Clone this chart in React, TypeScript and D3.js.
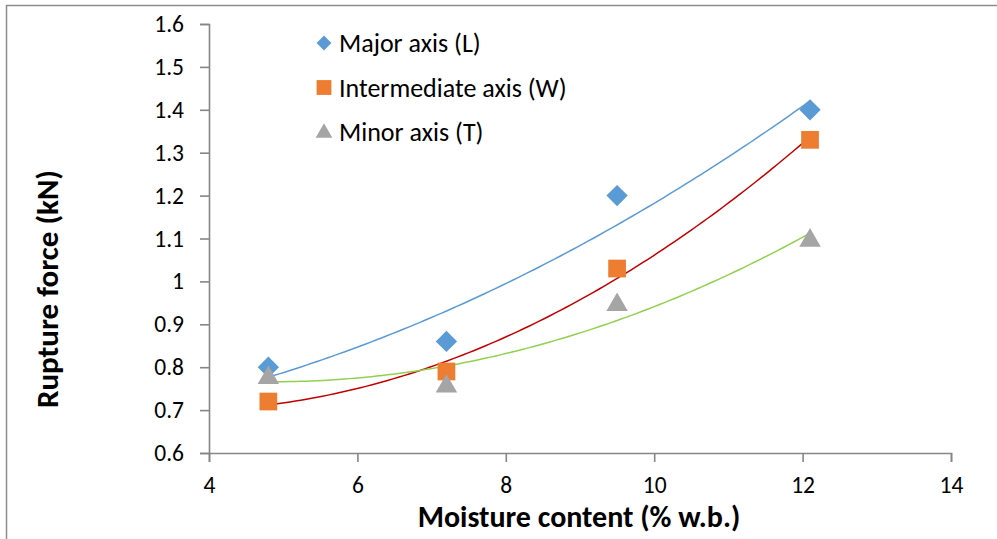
import * as d3 from 'd3';
import { useEffect, useRef } from 'react';

// moisture content levels (% w.b.)
const moisture = [4.8, 7.2, 9.5, 12.1];
// rupture force (kN) for each loading axis
const majorAxis = [0.8, 0.86, 1.2, 1.4];
const intermediateAxis = [0.72, 0.79, 1.03, 1.33];
const minorAxis = [0.78, 0.76, 0.95, 1.1];

const seriesNames = ['Major axis (L)', 'Intermediate axis (W)', 'Minor axis (T)'];
const xTicks = [4, 6, 8, 10, 12, 14];
const yTicks = [0.6, 0.7, 0.8, 0.9, 1, 1.1, 1.2, 1.3, 1.4, 1.5, 1.6];

const W = 997;
const H = 539;
const FONT = 'Carlito, Calibri, Lato, sans-serif';

// least squares, 2nd order polynomial (like the excel trendline)
function polyFit(xs: number[], ys: number[]) {
  const n = xs.length;
  let s1 = 0, s2 = 0, s3 = 0, s4 = 0, t0 = 0, t1 = 0, t2 = 0;
  xs.forEach((x, i) => {
    const y = ys[i];
    s1 += x; s2 += x * x; s3 += x * x * x; s4 += x * x * x * x;
    t0 += y; t1 += x * y; t2 += x * x * y;
  });
  const m = [
    [n, s1, s2, t0],
    [s1, s2, s3, t1],
    [s2, s3, s4, t2],
  ];
  for (let c = 0; c < 3; c++) {
    for (let r = c + 1; r < 3; r++) {
      const f = m[r][c] / m[c][c];
      for (let k = c; k < 4; k++) m[r][k] -= f * m[c][k];
    }
  }
  const coef = [0, 0, 0];
  for (let r = 2; r >= 0; r--) {
    let s = m[r][3];
    for (let k = r + 1; k < 3; k++) s -= m[r][k] * coef[k];
    coef[r] = s / m[r][r];
  }
  return (x: number) => coef[0] + coef[1] * x + coef[2] * x * x;
}

const App = () => {
  const xAxisRef = useRef<SVGGElement>(null);
  const yAxisRef = useRef<SVGGElement>(null);

  const x = d3.scaleLinear().domain([4, 14]).range([209, 951]);
  const y = d3.scaleLinear().domain([0.6, 1.6]).range([453, 24]);

  const series = [
    { name: seriesNames[0], values: majorAxis, fill: '#5B9BD5', trend: '#5B9BD5', shape: d3.symbolDiamond2 },
    { name: seriesNames[1], values: intermediateAxis, fill: '#ED7D31', trend: '#C00000', shape: d3.symbolSquare2 },
    { name: seriesNames[2], values: minorAxis, fill: '#A5A5A5', trend: '#92D050', shape: d3.symbolTriangle2 },
  ];

  useEffect(() => {
    document.body.style.margin = '0';
    const gx = d3.select(xAxisRef.current);
    gx.call(d3.axisBottom(x).tickValues(xTicks).tickSize(9).tickPadding(14).tickFormat(d3.format('d')) as any);
    const gy = d3.select(yAxisRef.current);
    gy.call(d3.axisLeft(y).tickValues(yTicks).tickSize(9).tickPadding(16).tickFormat((d: any) => String(+d.toFixed(1))) as any);
    [gx, gy].forEach((g) => {
      g.select('.domain').attr('stroke', '#868686').attr('stroke-width', 1.6);
      g.selectAll('.tick line').attr('stroke', '#868686').attr('stroke-width', 1.6);
      g.selectAll('.tick text').attr('fill', '#000').style('font-family', FONT).style('font-size', '23.5px');
    });
  }, []);

  const markerSize = (shape: any) => (shape === d3.symbolDiamond2 ? 290 : shape === d3.symbolSquare2 ? 400 : 330);

  return (
    <svg width={W} height={H} style={{ display: 'block', background: '#fff' }}>
      <rect x={0} y={0} width={W} height={H} fill="#fff" />
      {/* chart border */}
      <line x1={6} x2={W} y1={5.5} y2={5.5} stroke="#8c8c8c" strokeWidth={1.5} />
      <line x1={6.5} x2={6.5} y1={5} y2={H} stroke="#8c8c8c" strokeWidth={1.5} />

      <g ref={yAxisRef} transform="translate(209,0)" />
      <g ref={xAxisRef} transform="translate(0,453)" />

      {series.map((s) => {
        const f = polyFit(moisture, s.values);
        const xs = d3.range(0, 101).map((i) => moisture[0] + ((moisture[moisture.length - 1] - moisture[0]) * i) / 100);
        const line = d3
          .line<number>()
          .x((d) => x(d))
          .y((d) => y(f(d)));
        return <path key={s.name + '-trend'} d={line(xs) || ''} fill="none" stroke={s.trend} strokeWidth={1.5} />;
      })}

      {series.map((s) =>
        s.values.map((v, i) => (
          <path
            key={s.name + i}
            d={d3.symbol().type(s.shape).size(markerSize(s.shape))() || ''}
            transform={`translate(${x(moisture[i])},${y(v) + (s.shape === d3.symbolTriangle2 ? 2 : 0)})`}
            fill={s.fill}
          />
        ))
      )}

      {/* legend */}
      {series.map((s, i) => (
        <g key={s.name + '-legend'} transform={`translate(324,${43 + i * 44.5})`}>
          <path
            d={d3.symbol().type(s.shape).size(s.shape === d3.symbolDiamond2 ? 140 : s.shape === d3.symbolSquare2 ? 280 : 200)() || ''}
            transform={s.shape === d3.symbolTriangle2 ? 'translate(0,1)' : ''}
            fill={s.fill}
          />
          <text x={15} y={9} fontFamily={FONT} fontSize={26} fill="#000">
            {s.name}
          </text>
        </g>
      ))}

      <text
        x={579}
        y={527}
        textAnchor="middle"
        fontFamily={FONT}
        fontSize={30}
        fontWeight="bold"
        fill="#000"
      >
        Moisture content (% w.b.)
      </text>
      <text
        transform="translate(58,289) rotate(-90)"
        textAnchor="middle"
        fontFamily={FONT}
        fontSize={31}
        fontWeight="bold"
        fill="#000"
      >
        Rupture force (kN)
      </text>
    </svg>
  );
};

export default App;
